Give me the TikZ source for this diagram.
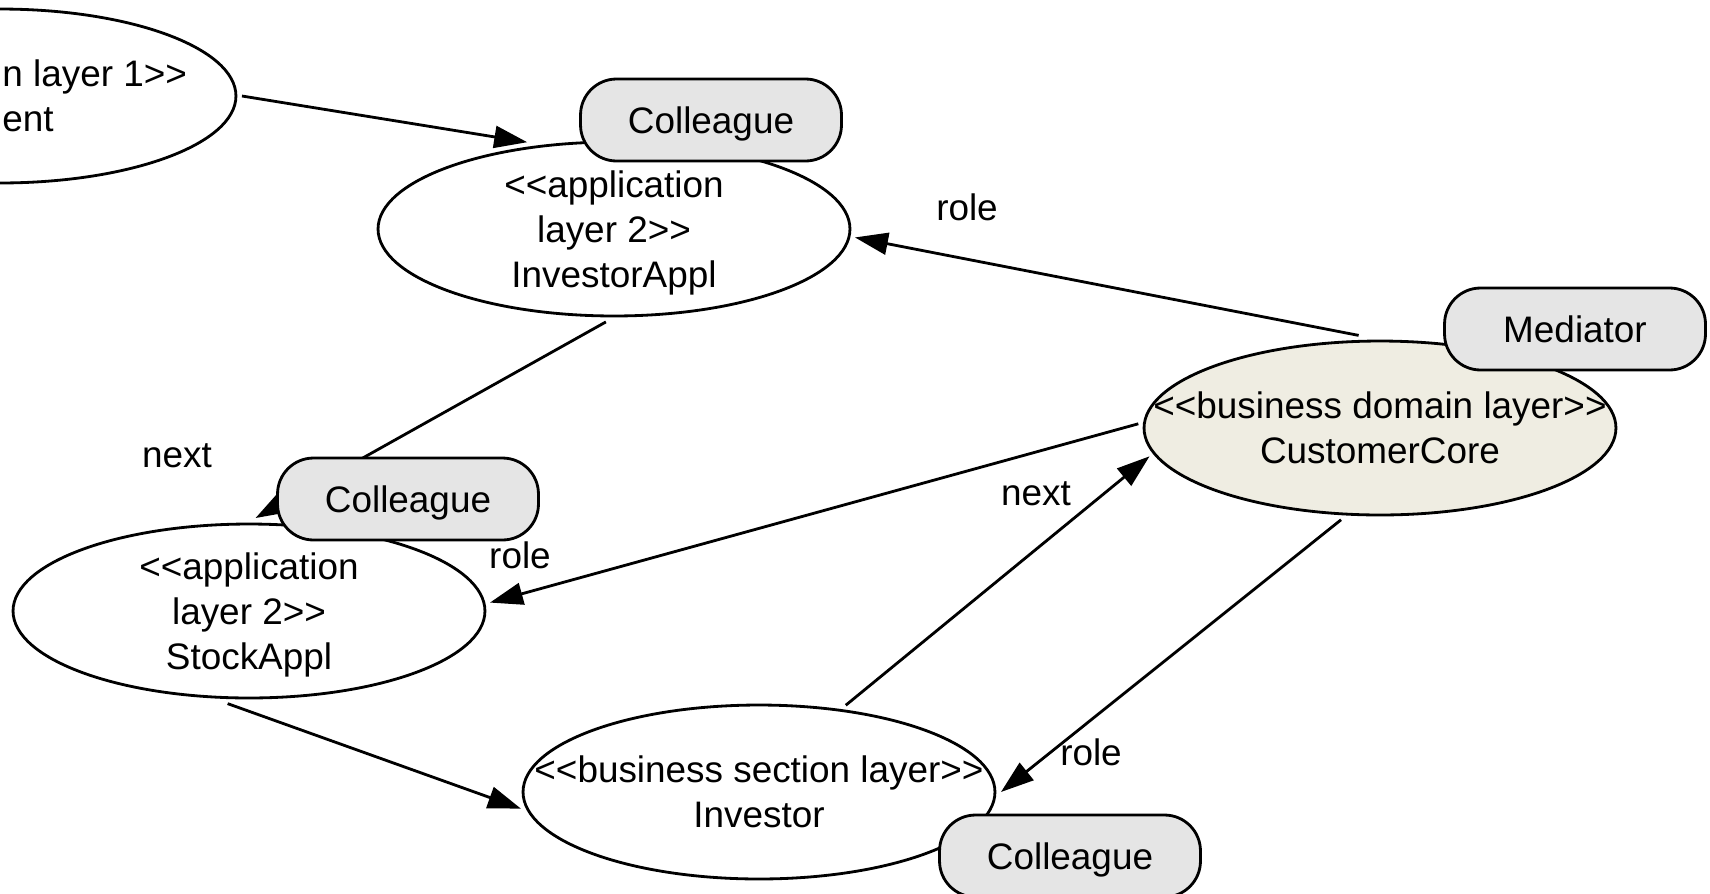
\documentclass[tikz,border=0pt]{standalone}
\usepackage{fontspec}
\newfontfamily\diafont{Liberation Sans}
\usetikzlibrary{shapes.geometric}
\usetikzlibrary{arrows.meta}
\definecolor{colleaguegray}{RGB}{229,229,229}
\definecolor{corebeige}{RGB}{239,237,226}

\begin{document}
\begin{tikzpicture}[x=0.02cm, y=-0.02cm, line width=1.6pt,
  every node/.style={font=\diafont\fontsize{21}{25.6}\selectfont},
  layer/.style={ellipse, draw, fill=white, minimum width=9.44cm, minimum height=3.48cm, inner sep=0pt, outer sep=0.12cm},
  layertext/.style={align=center, inner sep=0pt, text depth=0pt},
  rolebox/.style={draw, fill=colleaguegray, rounded corners=0.72cm, minimum width=5.22cm, minimum height=1.64cm, inner sep=0pt, text depth=0pt},
  link/.style={-{Triangle[length=0.66cm, width=0.44cm]}}]
\useasboundingbox (0,0) rectangle (1710,893);
\node[layer] (pres) at (0,96) {};
\node[layertext, anchor=west, align=left] (presText) at (1,96) {n layer 1>>\\ent};
\node[layer] (invAppl) at (614,229) {};
\node[layertext] (invApplText) at (invAppl) {<<application\\layer 2>>\\InvestorAppl};
\node[layer] (stock) at (249,611) {};
\node[layertext] (stockText) at (stock) {<<application\\layer 2>>\\StockAppl};
\node[layer, fill=corebeige] (core) at (1380,428) {};
\node[layertext] (coreText) at (core) {<<business domain layer>>\\CustomerCore};
\node[layer] (inv) at (759,792) {};
\node[layertext] (invText) at (inv) {<<business section layer>>\\Investor};
\node (roleA) at (967,207) {role};
\node (nextA) at (177,456) {next};
\node (roleB) at (520,555) {role};
\node (nextB) at (1036,494) {next};
\node (roleC) at (1091,752) {role};
\draw[link] (pres.east) -- (invAppl.135);
\draw[link] (core.103) -- (invAppl.-2);
\draw[link] (invAppl.-95) -- (stock.86);
\draw[link] (core.179) -- (stock.2);
\draw[link] (stock.-103) -- (inv.-176);
\draw[link] (inv.45) -- (core.-173);
\draw[link] (core.-113) -- (inv.east);
\node[rolebox] (colA) at (711,120) {Colleague};
\node[rolebox] (colB) at (408,499) {Colleague};
\node[rolebox] (med) at (1575,329) {Mediator};
\node[rolebox] (colC) at (1070,856) {Colleague};
\end{tikzpicture}
\end{document}
